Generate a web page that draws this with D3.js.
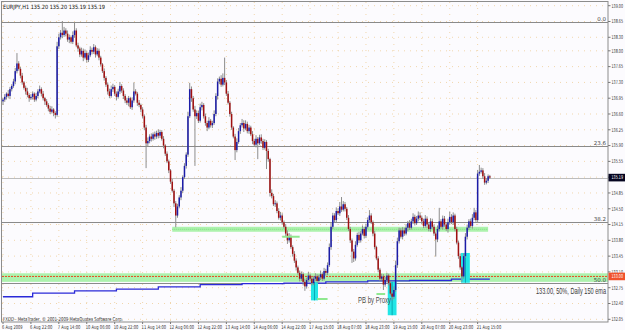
<!DOCTYPE html>
<html><head><meta charset="utf-8">
<script src="https://cdn.jsdelivr.net/npm/d3@7"></script>
<style>html,body{margin:0;padding:0;background:#fcfbfe;}svg{display:block}</style>
</head><body><svg id="c" width="625" height="330"></svg>
<script>
// ---- DATA ----
const symbol = "EURJPY,H1";
const headerQuote = [135.20, 135.20, 135.19, 135.19];
const firstOpen = 136.88;
const closes = [
136.92,136.98,137.05,137.00,137.15,137.22,137.32,137.55,137.72,137.60,
137.45,137.30,137.18,137.10,137.02,136.95,136.98,137.05,136.92,137.00,
137.10,137.15,137.05,136.95,136.88,136.80,136.72,136.65,136.70,136.62,
136.58,138.10,138.30,138.40,138.35,138.45,138.38,138.25,138.30,138.20,
138.35,138.45,138.12,138.05,137.92,138.00,137.85,137.95,137.80,137.90,
138.02,137.98,138.08,137.92,138.00,137.85,137.70,137.55,137.40,137.25,
137.10,137.00,137.15,137.20,137.05,136.98,137.10,137.22,137.12,137.00,
136.90,136.85,136.95,136.75,136.90,137.10,137.05,136.85,136.80,136.70,
136.55,136.30,135.95,136.00,136.10,136.05,136.15,136.10,136.18,136.12,
136.20,136.05,135.90,135.72,135.55,135.35,135.10,134.90,134.62,134.35,
134.55,134.75,134.90,135.20,135.45,135.70,136.55,137.15,136.95,136.70,
136.55,136.62,136.45,136.75,136.80,136.55,136.40,136.30,136.45,136.35,
136.40,136.60,137.00,137.32,137.38,137.25,137.40,137.30,137.05,136.85,
136.60,136.30,136.10,135.80,135.98,136.22,136.35,136.40,136.28,136.38,
136.22,136.30,136.15,136.00,135.92,136.05,135.95,136.08,136.00,135.85,
135.98,135.78,135.60,134.85,134.78,134.60,134.62,134.45,134.30,134.35,
134.20,134.10,133.95,133.80,133.88,133.65,133.50,133.35,133.20,133.08,
132.95,133.05,132.88,132.78,132.92,133.02,132.95,132.85,132.95,133.00,
132.90,132.98,133.05,132.95,133.12,133.08,133.25,133.65,134.10,134.35,
134.25,134.45,134.40,134.55,134.48,134.60,134.50,134.30,134.05,133.80,
133.55,133.40,133.70,133.92,133.80,133.95,134.05,133.90,134.10,134.25,
134.35,134.20,133.95,133.65,133.40,133.15,132.95,133.00,132.82,132.92,
133.02,132.85,132.62,132.55,132.70,133.25,133.78,134.02,133.88,134.02,
133.95,134.08,134.18,134.08,134.22,134.32,134.18,134.28,134.35,134.30,
134.22,134.12,134.28,134.15,134.05,134.22,134.10,133.95,133.82,134.05,
134.22,134.10,134.28,134.15,134.05,134.20,134.32,134.20,134.35,134.05,
133.75,133.45,133.20,133.00,133.45,133.88,134.08,134.22,134.12,134.30,
134.42,134.25,135.28,135.32,135.35,135.22,135.08,135.12,135.22,135.19];
// upper / lower wick lengths in pips
const wickUp = [
4,6,3,8,5,4,6,7,23,5, 4,6,3,5,8,4,6,5,3,7, 5,8,4,6,3,5,4,6,7,3,
4,10,8,6,26,8,5,7,6,4, 8,18,5,6,4,7,5,8,4,6, 8,5,7,4,6,5,4,3,6,4,
5,6,8,7,4,5,6,9,4,5, 4,6,5,3,7,20,5,4,6,3, 5,4,6,8,5,7,4,6,5,8,
5,4,6,3,5,4,3,6,4,5, 6,5,8,4,6,5,10,14,6,5, 8,6,5,8,7,4,6,5,8,4,
5,8,6,7,5,8,10,45,5,6, 4,5,3,6,8,7,5,9,6,8, 5,6,4,7,5,8,4,6,7,5,
6,4,5,3,8,5,7,4,6,8, 5,4,6,7,8,5,4,6,5,4, 5,6,4,7,5,8,4,5,6,7,
5,6,8,4,7,5,6,8,10,6, 5,8,6,10,21,7,5,4,6,5, 4,6,8,5,7,6,8,5,7,6,
12,5,4,6,3,5,4,6,5,7, 6,4,5,3,8,10,8,6,5,7, 6,8,5,7,6,8,5,6,9,7,
5,6,8,5,4,7,6,5,4,8, 30,5,7,6,5,8,12,6,7,4, 5,4,6,3,6,8,7,5,6,8,
10,5,8,15,6,5,7,6,4,3];
const wickDn = [
8,5,6,4,7,5,4,6,5,4, 6,5,4,7,5,8,4,6,5,4, 5,4,6,5,8,4,6,5,4,7,
8,4,6,5,7,4,6,5,8,4, 5,6,4,7,6,5,8,4,6,5, 4,6,5,7,4,6,5,4,6,5,
7,5,4,6,5,8,4,6,5,7, 6,5,8,4,6,5,4,7,5,6, 5,6,55,8,5,6,4,7,5,6,
5,4,6,5,4,6,5,4,8,26, 5,4,6,5,4,6,5,4,8,5, 110,6,5,4,7,5,6,8,4,5,
6,4,5,8,6,5,4,6,5,4, 6,5,4,22,5,4,6,5,8,4, 5,6,4,7,5,6,35,4,6,5,
4,40,6,8,5,4,6,5,4,6, 5,4,6,8,5,4,6,5,7,4, 6,5,8,10,5,4,6,5,4,6,
5,4,6,5,4,6,5,4,6,5, 6,5,4,6,5,4,6,5,4,6, 25,8,5,4,6,5,4,6,5,4,
5,4,6,5,4,6,5,4,12,5, 6,5,4,8,5,4,6,5,4,6, 5,4,8,5,4,6,5,4,6,5,
6,5,4,8,5,6,4,5,38,6, 5,4,6,5,4,8,5,4,6,5, 4,6,5,12,5,4,6,5,4,6,
5,4,6,5,4,6,5,4,5,3];
const xTickLabels = ["6 Aug 2009","6 Aug 22:00","7 Aug 14:00","10 Aug 06:00","10 Aug 22:00","11 Aug 14:00","12 Aug 06:00","12 Aug 22:00","13 Aug 14:00","14 Aug 06:00","14 Aug 22:00","17 Aug 15:00","18 Aug 07:00","18 Aug 23:00","19 Aug 15:00","20 Aug 07:00","20 Aug 23:00","21 Aug 15:00"];
const xTickBars = [0,16,32,48,64,80,96,112,128,144,160,176,192,208,224,240,256,272];
const yTicks = [139.00,138.65,138.30,138.00,137.65,137.30,136.95,136.60,136.25,135.90,135.55,135.20,134.85,134.50,134.15,133.80,133.45,133.10,132.75,132.40,132.05];
// daily 150 EMA: first bar of each day and value
const emaDayStart = [0,17,41,65,89,113,137,161,185,209,233,257];
const emaValues = [132.55,132.63,132.68,132.72,132.77,132.82,132.84,132.85,132.88,132.90,132.91,132.94];
// Fibonacci levels
const fibLevels = ["0.0","23.6","38.2","50.0"];
const fibPrices = [138.645,135.90,134.20,132.85];
const currentPrice = 135.19;
const targetPrice = 133.00;
// support zones [fromBar, toBar, top, bottom]
const zoneFull = [132.88, 133.07];
const zoneUpper = {from: 97, to: 278, lo: 133.99, hi: 134.10};
// PB by Proxy boxes
const pbFrom = [177, 221, 263];
const pbTo = [180, 225, 267];
const pbTop = [132.88, 132.88, 133.52];
const pbBottom = [132.47, 132.14, 132.86];
// short green marks
const markFrom = [160, 180, 214];
const markTo = [170, 186, 219];
const markPrice = [133.88, 132.50, 132.61];

// ---- DRAW ----
const svg = d3.select("#c");
const W = 625, H = 330, plotR = 608, plotB = 322;
const n = closes.length;
const x = d3.scaleLinear().domain([0, n - 1]).range([3, 3 + (n - 1) * 1.745]);
const y = d3.scaleLinear().domain([132.05, 139.00]).range([319.3, 5.7]);

svg.append("rect").attr("width", W).attr("height", H).attr("fill", "#fcfbfe");

// grid
const g = svg.append("g");
g.selectAll(".hg").data(yTicks).join("line")
  .attr("x1", 2).attr("x2", plotR).attr("y1", d => y(d)).attr("y2", d => y(d))
  .attr("stroke", "#f1d6ac").attr("stroke-dasharray", "1,5").attr("stroke-width", 1);
g.selectAll(".vg").data(xTickBars).join("line")
  .attr("x1", d => x(d)).attr("x2", d => x(d)).attr("y1", 2).attr("y2", plotB)
  .attr("stroke", "#f1d6ac").attr("stroke-dasharray", "1,5").attr("stroke-width", 1);

// zones
svg.append("rect").attr("x", 2).attr("width", plotR - 2)
  .attr("y", y(zoneFull[1])).attr("height", y(zoneFull[0]) - y(zoneFull[1]))
  .attr("fill", "#9ff09f").attr("opacity", 0.85);
svg.append("rect").attr("x", x(zoneUpper.from)).attr("width", x(zoneUpper.to) - x(zoneUpper.from))
  .attr("y", y(zoneUpper.hi)).attr("height", y(zoneUpper.lo) - y(zoneUpper.hi))
  .attr("fill", "#9ff09f").attr("opacity", 0.85);
svg.append("line").attr("x1", x(zoneUpper.from)).attr("x2", x(zoneUpper.to))
  .attr("y1", y((zoneUpper.lo + zoneUpper.hi) / 2)).attr("y2", y((zoneUpper.lo + zoneUpper.hi) / 2))
  .attr("stroke", "#7fdc7f").attr("stroke-dasharray", "1,1");

// fib lines
svg.selectAll(".fib").data(fibPrices).join("line")
  .attr("x1", 2).attr("x2", plotR).attr("y1", d => Math.round(y(d)) + 0.5).attr("y2", d => Math.round(y(d)) + 0.5)
  .attr("stroke", "#8a8a8a").attr("stroke-width", 1);
svg.selectAll(".fibt").data(fibLevels).join("text")
  .attr("x", 606).attr("y", (d, i) => Math.round(y(fibPrices[i])) - 1)
  .attr("text-anchor", "end").attr("font-family", "DejaVu Sans").attr("font-size", 5.5)
  .attr("fill", "#444").text(d => d);
// current price line
svg.append("line").attr("x1", 2).attr("x2", plotR)
  .attr("y1", Math.round(y(currentPrice)) + 0.5).attr("y2", Math.round(y(currentPrice)) + 0.5)
  .attr("stroke", "#bdbdbd");
// target red dotted
svg.append("line").attr("x1", 2).attr("x2", plotR)
  .attr("y1", y(targetPrice)).attr("y2", y(targetPrice))
  .attr("stroke", "#e8471f").attr("stroke-dasharray", "2,1").attr("stroke-width", 1);

// EMA step line
const emaPts = emaDayStart.map((b, i) => [b, emaValues[i]]);
emaPts.push([n - 1, emaValues[emaValues.length - 1]]);
svg.append("path").datum(emaPts)
  .attr("d", d3.line().x(d => x(d[0])).y(d => y(d[1])).curve(d3.curveStepAfter))
  .attr("fill", "none").attr("stroke", "#2a2ad8").attr("stroke-width", 1.3);

// PB boxes
pbFrom.forEach((f, i) => {
  const x0 = x(f) - 0.9, x1 = x(pbTo[i]) + 0.9;
  svg.append("rect").attr("x", x0).attr("width", x1 - x0)
    .attr("y", y(pbTop[i])).attr("height", y(pbBottom[i]) - y(pbTop[i]))
    .attr("fill", "#22e6e6");
  svg.append("line").attr("x1", (x0 + x1) / 2).attr("x2", (x0 + x1) / 2)
    .attr("y1", y(pbTop[i])).attr("y2", y(pbBottom[i]))
    .attr("stroke", "#0aa9b4").attr("stroke-width", 1);
});

// candles
const bars = closes.map((c, i) => {
  const o = i ? closes[i - 1] : firstOpen;
  return {i, o, c, h: Math.max(o, c) + wickUp[i] / 100, l: Math.min(o, c) - wickDn[i] / 100};
});
const cg = svg.append("g");
cg.selectAll(".w").data(bars).join("line")
  .attr("x1", d => x(d.i)).attr("x2", d => x(d.i))
  .attr("y1", d => y(d.h)).attr("y2", d => y(d.l))
  .attr("stroke", "#8d8d8d").attr("stroke-width", 1);
cg.selectAll(".b").data(bars).join("rect")
  .attr("x", d => x(d.i) - 0.75).attr("width", 1.5)
  .attr("y", d => y(Math.max(d.o, d.c)))
  .attr("height", d => Math.max(0.8, Math.abs(y(d.o) - y(d.c))))
  .attr("fill", d => d.c >= d.o ? "#1c1ca8" : "#a01010");

// green marks
markFrom.forEach((f, i) => {
  svg.append("line").attr("x1", x(f)).attr("x2", x(markTo[i]))
    .attr("y1", y(markPrice[i])).attr("y2", y(markPrice[i]))
    .attr("stroke", "#8fe88f").attr("stroke-width", 2);
});

// annotation texts
svg.append("text").attr("x", 358).attr("y", 303).attr("font-family", "Liberation Sans")
  .attr("font-size", 8.5).attr("fill", "#4a4a4a")
  .attr("textLength", 33).attr("lengthAdjust", "spacingAndGlyphs").text("PB by Proxy");
svg.append("text").attr("x", 536).attr("y", 293.5).attr("font-family", "Liberation Sans")
  .attr("font-size", 8.5).attr("fill", "#3a3a3a")
  .attr("textLength", 70).attr("lengthAdjust", "spacingAndGlyphs").text("133.00, 50%, Daily 150 ema");

// header & copyright
svg.append("text").attr("x", 3).attr("y", 8.5).attr("font-family", "DejaVu Sans")
  .attr("font-size", 5.8).attr("fill", "#111")
  .attr("textLength", 102).attr("lengthAdjust", "spacingAndGlyphs")
  .text(symbol + "  " + headerQuote.map(v => v.toFixed(2)).join(" "));
svg.append("text").attr("x", 3).attr("y", 320.5).attr("font-family", "DejaVu Sans")
  .attr("font-size", 5.3).attr("fill", "#333")
  .attr("textLength", 120).attr("lengthAdjust", "spacingAndGlyphs")
  .text("FXDD - MetaTrader, \u00a9 2001-2009 MetaQuotes Software Corp.");

// frame
svg.append("rect").attr("x", 1.5).attr("y", 1.5).attr("width", plotR - 1.5).attr("height", plotB - 1.5)
  .attr("fill", "none").attr("stroke", "#8c8c8c");

// y axis labels
const ya = svg.append("g");
ya.selectAll("line").data(yTicks).join("line")
  .attr("x1", plotR).attr("x2", plotR + 2.5).attr("y1", d => y(d)).attr("y2", d => y(d)).attr("stroke", "#777");
ya.selectAll("text").data(yTicks).join("text")
  .attr("x", 611.5).attr("y", d => y(d)).attr("dy", "0.35em")
  .attr("font-family", "DejaVu Sans").attr("font-size", 5.3).attr("fill", "#333")
  .attr("textLength", 11.5).attr("lengthAdjust", "spacingAndGlyphs")
  .text(d => d.toFixed(2));

// price boxes
function priceBox(p, fill) {
  const yy = y(p);
  svg.append("rect").attr("x", 608.5).attr("y", yy - 3.8).attr("width", 16.5).attr("height", 7.6).attr("fill", fill);
  svg.append("text").attr("x", 611.5).attr("y", yy).attr("dy", "0.35em")
    .attr("font-family", "DejaVu Sans").attr("font-size", 5.3).attr("fill", "#fff")
    .attr("textLength", 11.5).attr("lengthAdjust", "spacingAndGlyphs").text(p.toFixed(2));
}
priceBox(currentPrice, "#050520");
priceBox(targetPrice, "#f0522c");

// x axis labels
const xa = svg.append("g");
xa.selectAll("line").data(xTickBars).join("line")
  .attr("x1", d => x(d)).attr("x2", d => x(d)).attr("y1", plotB).attr("y2", plotB + 2).attr("stroke", "#777");
xa.selectAll("text").data(xTickLabels).join("text")
  .attr("x", (d, i) => x(xTickBars[i]) - 1).attr("y", 328.5)
  .attr("font-family", "DejaVu Sans").attr("font-size", 5.3).attr("fill", "#333")
  .attr("textLength", d => d.length * 2.05).attr("lengthAdjust", "spacingAndGlyphs")
  .text(d => d);
</script></body></html>
